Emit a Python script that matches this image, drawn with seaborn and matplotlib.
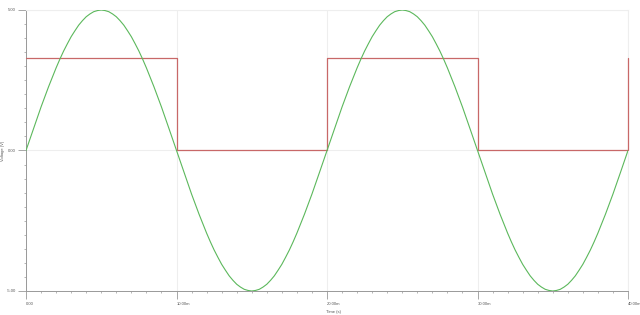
import matplotlib
matplotlib.use("Agg")
import matplotlib.pyplot as plt
from matplotlib.ticker import MultipleLocator, FixedLocator
import seaborn as sns
import pandas as pd

sine_time_ms = [i * 0.25 for i in range(161)]
sine_volts = [
    # 0 - 10 ms
    0.00, 0.39, 0.78, 1.17, 1.55, 1.91, 2.27, 2.61, 2.94, 3.25,
    3.54, 3.80, 4.05, 4.26, 4.46, 4.62, 4.76, 4.86, 4.94, 4.98,
    5.00, 4.98, 4.94, 4.86, 4.76, 4.62, 4.46, 4.26, 4.05, 3.80,
    3.54, 3.25, 2.94, 2.61, 2.27, 1.91, 1.55, 1.17, 0.78, 0.39,
    # 10 - 20 ms
    0.00, -0.39, -0.78, -1.17, -1.55, -1.91, -2.27, -2.61, -2.94, -3.25,
    -3.54, -3.80, -4.05, -4.26, -4.46, -4.62, -4.76, -4.86, -4.94, -4.98,
    -5.00, -4.98, -4.94, -4.86, -4.76, -4.62, -4.46, -4.26, -4.05, -3.80,
    -3.54, -3.25, -2.94, -2.61, -2.27, -1.91, -1.55, -1.17, -0.78, -0.39,
    # 20 - 30 ms
    0.00, 0.39, 0.78, 1.17, 1.55, 1.91, 2.27, 2.61, 2.94, 3.25,
    3.54, 3.80, 4.05, 4.26, 4.46, 4.62, 4.76, 4.86, 4.94, 4.98,
    5.00, 4.98, 4.94, 4.86, 4.76, 4.62, 4.46, 4.26, 4.05, 3.80,
    3.54, 3.25, 2.94, 2.61, 2.27, 1.91, 1.55, 1.17, 0.78, 0.39,
    # 30 - 40 ms
    0.00, -0.39, -0.78, -1.17, -1.55, -1.91, -2.27, -2.61, -2.94, -3.25,
    -3.54, -3.80, -4.05, -4.26, -4.46, -4.62, -4.76, -4.86, -4.94, -4.98,
    -5.00, -4.98, -4.94, -4.86, -4.76, -4.62, -4.46, -4.26, -4.05, -3.80,
    -3.54, -3.25, -2.94, -2.61, -2.27, -1.91, -1.55, -1.17, -0.78, -0.39,
    0.00,
]

square_time_ms = [0, 10, 10, 20, 20, 30, 30, 40, 40]
square_volts = [3.3, 3.3, 0.0, 0.0, 3.3, 3.3, 0.0, 0.0, 3.3]

x_ticks = [0, 10, 20, 30, 40]
x_tick_labels = ["0.00", "10.00m", "20.00m", "30.00m", "40.00m"]
y_ticks = [-5, 0, 5]
y_tick_labels = ["-5.00", "0.00", "5.00"]

sns.set_style("white")
plt.rcParams["font.family"] = ["Liberation Sans", "DejaVu Sans"]

fig = plt.figure(figsize=(6.4, 3.15), dpi=100)
ax = fig.add_axes([26 / 640, 24 / 315, 602 / 640, 281 / 315])

sine_df = pd.DataFrame({"t": sine_time_ms, "v": sine_volts})
sq_df = pd.DataFrame({"t": square_time_ms, "v": square_volts})

sns.lineplot(data=sq_df, x="t", y="v", ax=ax, color="#c86868", lw=0.9,
             sort=False, estimator=None, zorder=3, clip_on=False)
sns.lineplot(data=sine_df, x="t", y="v", ax=ax, color="#5cb85c", lw=0.8,
             sort=False, estimator=None, zorder=4)

ax.set_xlim(0, 40)
ax.set_ylim(-5, 5)

ax.xaxis.set_major_locator(FixedLocator(x_ticks))
ax.set_xticklabels(x_tick_labels, ha="left")
ax.yaxis.set_major_locator(FixedLocator(y_ticks))
ax.set_yticklabels(y_tick_labels)
ax.xaxis.set_minor_locator(MultipleLocator(1))
ax.yaxis.set_minor_locator(MultipleLocator(0.5))

ax.tick_params(axis="both", which="both", bottom=True, left=True,
               top=False, right=False)
ax.tick_params(axis="both", which="major", direction="out", length=6,
               width=0.6, color="#999999", labelsize=3, labelcolor="#555555",
               pad=1.5)
ax.tick_params(axis="both", which="minor", direction="out", length=1.6,
               width=0.5, color="#999999")
ax.tick_params(axis="x", which="major", pad=2)

ax.grid(True, which="major", color="#eeeeee", lw=0.8)
ax.set_axisbelow(True)

for side in ["left", "bottom"]:
    ax.spines[side].set_color("#999999")
    ax.spines[side].set_linewidth(0.7)
for side in ["top", "right"]:
    ax.spines[side].set_color("#eeeeee")
    ax.spines[side].set_linewidth(0.8)

ax.set_xlabel("Time (s)", fontsize=3, color="#555555", ha="left")
ax.xaxis.set_label_coords(0.4985, -0.068)
ax.set_ylabel("Voltage (V)", fontsize=3, color="#555555")
ax.yaxis.set_label_coords(-0.035, 0.5)

fig.savefig("out.png", dpi=100, facecolor="white")
